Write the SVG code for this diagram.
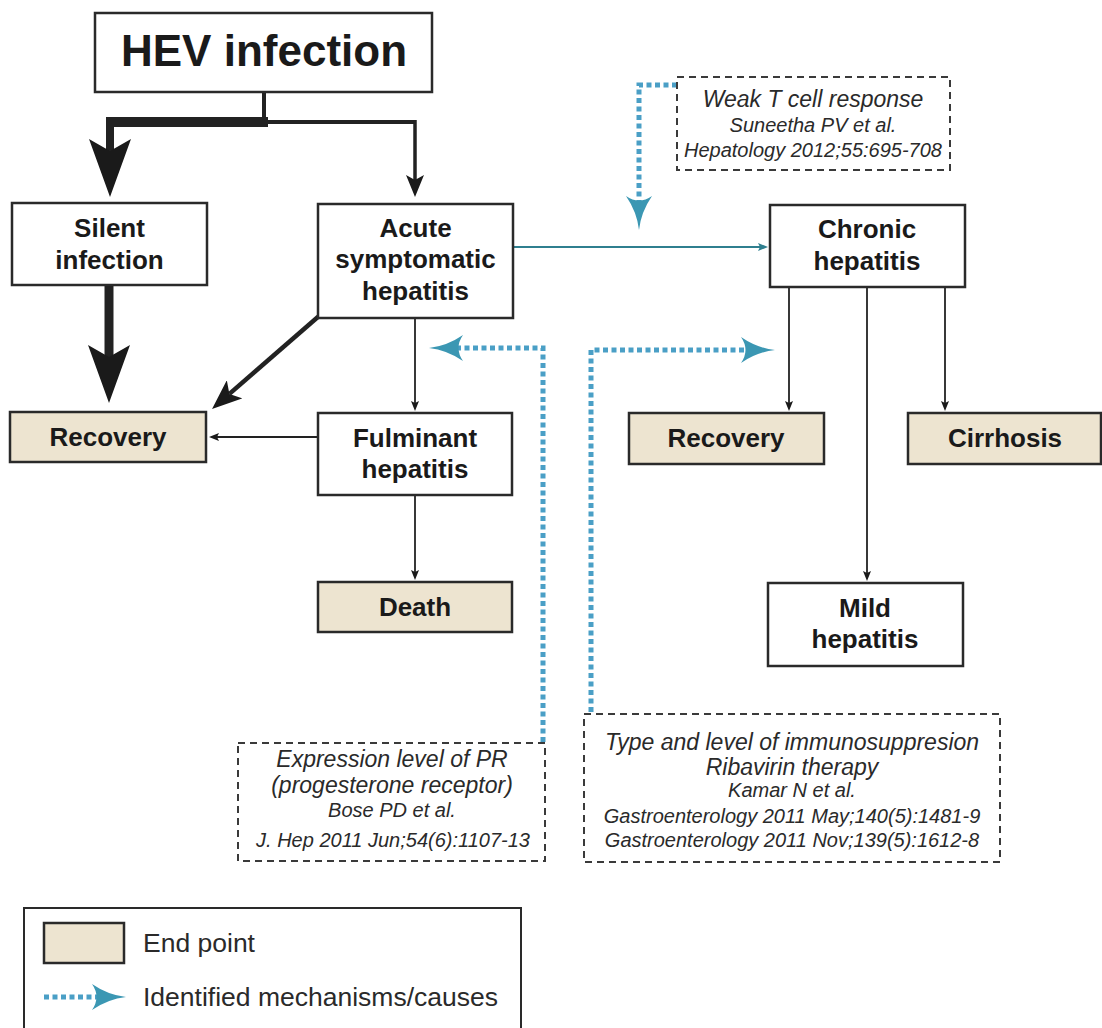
<svg xmlns="http://www.w3.org/2000/svg" width="1102" height="1028" viewBox="0 0 1102 1028">
<defs>
<style>
.box{fill:#fff;stroke:#2a2a2a;stroke-width:2.5}
.end{fill:#ede4d0;stroke:#2a2a2a;stroke-width:2.5}
.dbox{fill:#fff;stroke:#3a3a3a;stroke-width:2;stroke-dasharray:7 5}
.lbl{font-family:"Liberation Sans",Arial,sans-serif;font-weight:bold;font-size:26px;fill:#1a1a1a;text-anchor:middle}
.title{font-family:"Liberation Sans",Arial,sans-serif;font-weight:bold;font-size:44px;fill:#1a1a1a;text-anchor:middle}
.mech{font-family:"Liberation Sans",Arial,sans-serif;font-style:italic;font-size:23px;fill:#2a2a2a;text-anchor:middle}
.cite{font-family:"Liberation Sans",Arial,sans-serif;font-style:italic;font-size:20px;fill:#2a2a2a;text-anchor:middle}
.leg{font-family:"Liberation Sans",Arial,sans-serif;font-size:26.5px;fill:#2a2a2a}
.blk{fill:none;stroke:#222}
.dot{fill:none;stroke:#4a9fc6;stroke-width:5;stroke-dasharray:5 3.5}
</style>
<marker id="hb" markerUnits="userSpaceOnUse" markerWidth="58" markerHeight="42" refX="12" refY="21" orient="auto"><path d="M0,0 L58,21 L0,42 L12,21 Z" fill="#1a1a1a"/></marker>
<marker id="hm" markerUnits="userSpaceOnUse" markerWidth="30" markerHeight="24" refX="7" refY="12" orient="auto"><path d="M0,0 L30,12 L0,24 L7,12 Z" fill="#1a1a1a"/></marker>
<marker id="hs" markerUnits="userSpaceOnUse" markerWidth="22" markerHeight="18" refX="5" refY="9" orient="auto"><path d="M0,0 L22,9 L0,18 L5,9 Z" fill="#1a1a1a"/></marker>
<marker id="ht" markerUnits="userSpaceOnUse" markerWidth="10" markerHeight="8" refX="2" refY="4" orient="auto"><path d="M0,0 L10,4 L0,8 L2,4 Z" fill="#1a1a1a"/></marker>
<marker id="htt" markerUnits="userSpaceOnUse" markerWidth="10" markerHeight="8" refX="2" refY="4" orient="auto"><path d="M0,0 L10,4 L0,8 L2,4 Z" fill="#2f7f8f"/></marker>
<marker id="hblue" markerUnits="userSpaceOnUse" markerWidth="34" markerHeight="26" refX="9" refY="13" orient="auto"><path d="M0,0 Q16,11 34,13 Q16,15 0,26 Q9,13 0,0 Z" fill="#3b97b3"/></marker>
</defs>

<g id="connectors">
  <path class="blk" d="M264,92 V122" stroke-width="4"/>
  <path class="blk" d="M268,122 H106" stroke-width="10"/>
  <path class="blk" d="M264,122 H415" stroke-width="4"/>
  <path class="blk" d="M110,117 V151" stroke-width="8" marker-end="url(#hb)"/>
  <path class="blk" d="M415,120 V180" stroke-width="3.5" marker-end="url(#hs)"/>
  <path class="blk" d="M109,286 V357" stroke-width="9" marker-end="url(#hb)"/>
  <path class="blk" d="M319,316 L229.4,393.9" stroke-width="4.5" marker-end="url(#hm)"/>
  <path class="blk" d="M415,318 V403" stroke-width="1.8" marker-end="url(#ht)"/>
  <path class="blk" d="M318,437 H217" stroke-width="1.8" marker-end="url(#ht)"/>
  <path class="blk" d="M415,495 V572" stroke-width="1.8" marker-end="url(#ht)"/>
  <path d="M513,247 H760" fill="none" stroke="#2f7f8f" stroke-width="2" marker-end="url(#htt)"/>
  <path class="blk" d="M789,287 V403" stroke-width="1.8" marker-end="url(#ht)"/>
  <path class="blk" d="M945,287 V403" stroke-width="1.8" marker-end="url(#ht)"/>
  <path class="blk" d="M867,287 V573" stroke-width="1.8" marker-end="url(#ht)"/>
  <path class="dot" d="M677,85 H639 V205" marker-end="url(#hblue)"/>
  <path class="dot" d="M543,742 V348 H454" marker-end="url(#hblue)"/>
  <path class="dot" d="M591,712 V350 H750" marker-end="url(#hblue)"/>
</g>

<g id="hev">
  <rect class="box" x="95" y="13" width="337" height="79"/>
  <text class="title" x="264" y="66">HEV infection</text>
</g>
<g id="silent">
  <rect class="box" x="12" y="203" width="195" height="82"/>
  <text class="lbl" x="109.5" y="237">Silent</text>
  <text class="lbl" x="109.5" y="269">infection</text>
</g>
<g id="acute">
  <rect class="box" x="318" y="204" width="195" height="114"/>
  <text class="lbl" x="415.5" y="237">Acute</text>
  <text class="lbl" x="415.5" y="268">symptomatic</text>
  <text class="lbl" x="415.5" y="300">hepatitis</text>
</g>
<g id="recovery1">
  <rect class="end" x="10" y="412" width="196" height="50"/>
  <text class="lbl" x="108" y="446">Recovery</text>
</g>
<g id="fulminant">
  <rect class="box" x="318" y="413" width="194" height="82"/>
  <text class="lbl" x="415" y="447">Fulminant</text>
  <text class="lbl" x="415" y="478">hepatitis</text>
</g>
<g id="death">
  <rect class="end" x="318" y="582" width="194" height="50"/>
  <text class="lbl" x="415" y="616">Death</text>
</g>
<g id="chronic">
  <rect class="box" x="770" y="205" width="195" height="82"/>
  <text class="lbl" x="867" y="238">Chronic</text>
  <text class="lbl" x="867" y="270">hepatitis</text>
</g>
<g id="recovery2">
  <rect class="end" x="629" y="413" width="195" height="51"/>
  <text class="lbl" x="726" y="447">Recovery</text>
</g>
<g id="cirrhosis">
  <rect class="end" x="908" y="413" width="193" height="51"/>
  <text class="lbl" x="1005" y="447">Cirrhosis</text>
</g>
<g id="mild">
  <rect class="box" x="768" y="583" width="195" height="83"/>
  <text class="lbl" x="865" y="617">Mild</text>
  <text class="lbl" x="865" y="648">hepatitis</text>
</g>
<g id="weakT">
  <rect class="dbox" x="677" y="77" width="273" height="93"/>
  <text class="mech" x="813" y="107">Weak T cell response</text>
  <text class="cite" x="813" y="132">Suneetha PV et al.</text>
  <text class="cite" x="813" y="157">Hepatology 2012;55:695-708</text>
</g>
<g id="pr">
  <rect class="dbox" x="238" y="743" width="307" height="118"/>
  <text class="mech" x="392" y="767">Expression level of PR</text>
  <text class="mech" x="392" y="793">(progesterone receptor)</text>
  <text class="cite" x="392" y="817">Bose PD et al.</text>
  <text class="cite" x="393" y="847">J. Hep 2011 Jun;54(6):1107-13</text>
</g>
<g id="immuno">
  <rect class="dbox" x="584" y="714" width="416" height="148"/>
  <text class="mech" x="792" y="750">Type and level of immunosuppresion</text>
  <text class="mech" x="792" y="775">Ribavirin therapy</text>
  <text class="cite" x="792" y="797">Kamar N et al.</text>
  <text class="cite" x="792" y="823">Gastroenterology 2011 May;140(5):1481-9</text>
  <text class="cite" x="792" y="847">Gastroenterology 2011 Nov;139(5):1612-8</text>
</g>
<g id="legend">
  <rect x="24" y="908" width="497" height="130" fill="#fff" stroke="#2a2a2a" stroke-width="2"/>
  <rect class="end" x="44" y="923" width="80" height="40"/>
  <text class="leg" x="143" y="952">End point</text>
  <path class="dot" d="M44,997 H101" marker-end="url(#hblue)"/>
  <text class="leg" x="143" y="1006">Identified mechanisms/causes</text>
</g>
</svg>
